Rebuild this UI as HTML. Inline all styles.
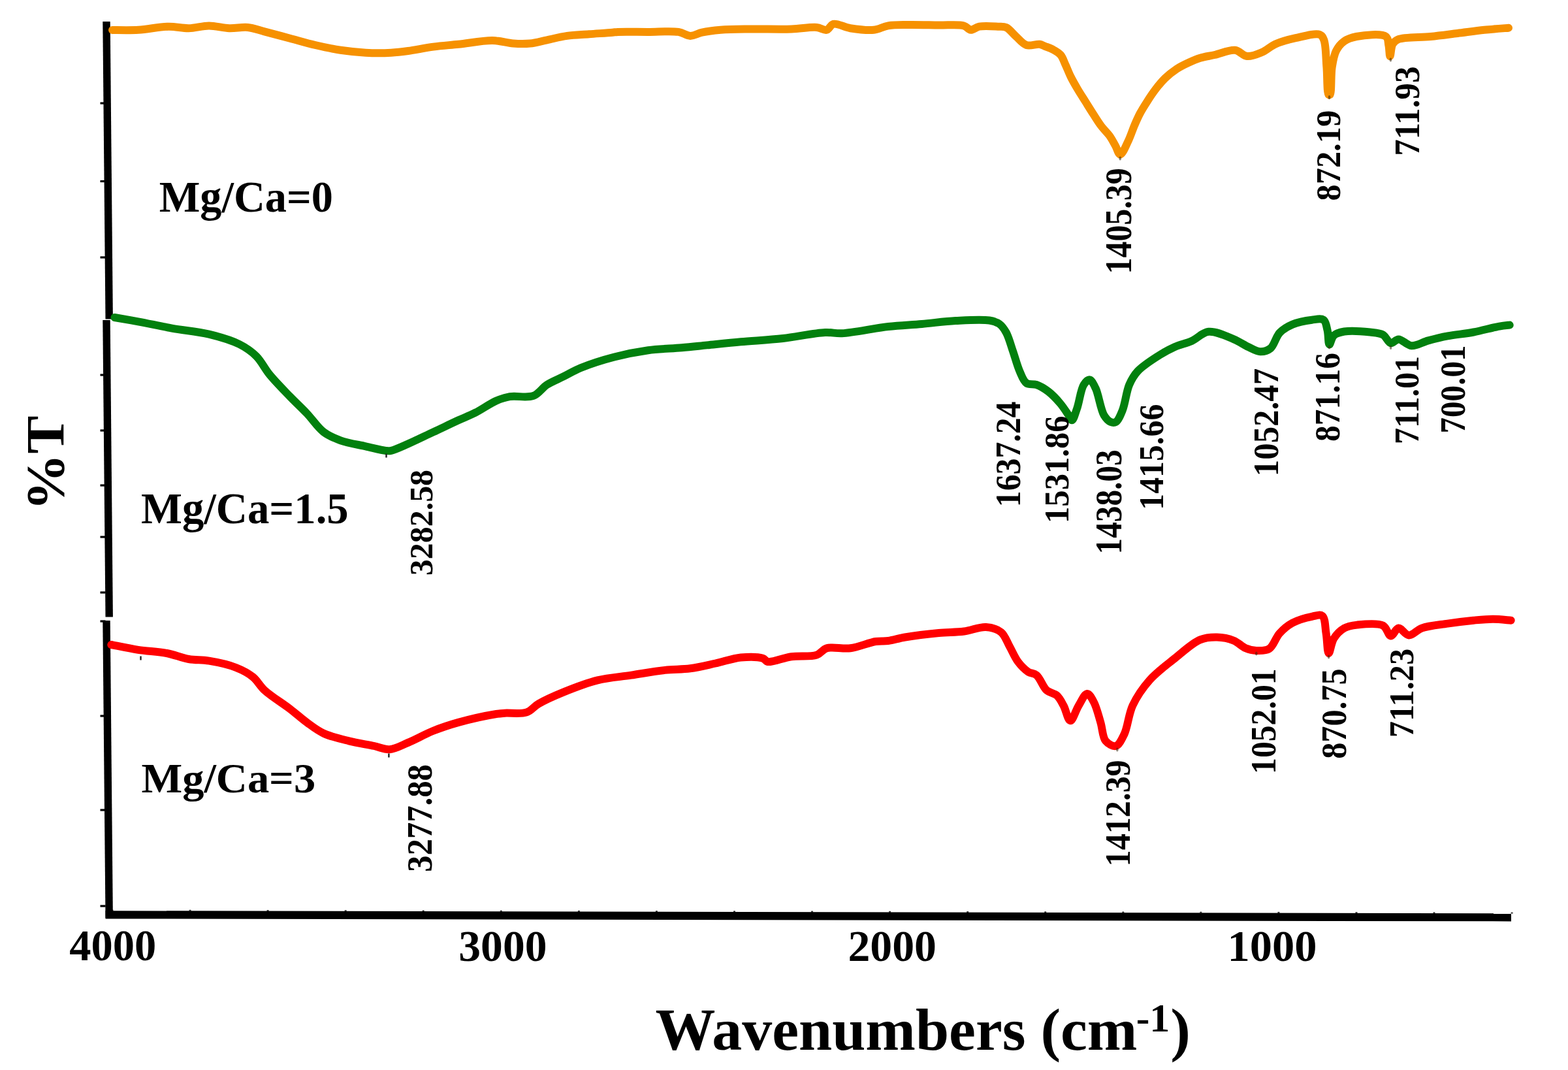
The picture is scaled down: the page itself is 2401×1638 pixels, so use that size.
<!DOCTYPE html><html><head><meta charset="utf-8"><title>FTIR spectra</title><style>html,body{margin:0;padding:0;background:#fff;}svg{display:block;} text{font-family:'Liberation Serif','Times New Roman',serif;font-weight:bold;fill:#000;}</style></head><body>
<svg width="2401" height="1638" viewBox="0 0 2401 1638">
<rect width="2401" height="1638" fill="#fff"/>
<polygon points="157.3,33 168.7,33 172.89999999999998,488.5 161.5,488.5" fill="#000"/>
<polygon points="157.3,490 168.7,490 172.89999999999998,944.5 161.5,944.5" fill="#000"/>
<polygon points="157.3,950 168.7,950 172.89999999999998,1405 161.5,1405" fill="#000"/>
<polygon points="161.5,1394.2 2314,1398.2 2314,1410.4 161.5,1406.4" fill="#000"/>
<rect x="153.5" y="156.4" width="8" height="3.2" fill="#000"/>
<rect x="153.5" y="275.9" width="8" height="3.2" fill="#000"/>
<rect x="153.5" y="392.4" width="8" height="3.2" fill="#000"/>
<rect x="153.5" y="572.4" width="8" height="3.2" fill="#000"/>
<rect x="153.5" y="657.4" width="8" height="3.2" fill="#000"/>
<rect x="153.5" y="741.4" width="8" height="3.2" fill="#000"/>
<rect x="153.5" y="820.4" width="8" height="3.2" fill="#000"/>
<rect x="153.5" y="905.4" width="8" height="3.2" fill="#000"/>
<rect x="153.5" y="949.4" width="8" height="3.2" fill="#000"/>
<rect x="153.5" y="1094.4" width="8" height="3.2" fill="#000"/>
<rect x="153.5" y="1238.4" width="8" height="3.2" fill="#000"/>
<rect x="153.5" y="1385.4" width="8" height="3.2" fill="#000"/>
<rect x="170.5" y="1392.6" width="3" height="2" fill="#000" fill-opacity="0.8"/>
<rect x="289.6" y="1392.8" width="3" height="2" fill="#000" fill-opacity="0.8"/>
<rect x="408.6" y="1393.1" width="3" height="2" fill="#000" fill-opacity="0.8"/>
<rect x="527.7" y="1393.3" width="3" height="2" fill="#000" fill-opacity="0.8"/>
<rect x="646.7" y="1393.5" width="3" height="2" fill="#000" fill-opacity="0.8"/>
<rect x="765.8" y="1393.7" width="3" height="2" fill="#000" fill-opacity="0.8"/>
<rect x="884.9" y="1393.9" width="3" height="2" fill="#000" fill-opacity="0.8"/>
<rect x="1003.9" y="1394.2" width="3" height="2" fill="#000" fill-opacity="0.8"/>
<rect x="1123.0" y="1394.4" width="3" height="2" fill="#000" fill-opacity="0.8"/>
<rect x="1242.0" y="1394.6" width="3" height="2" fill="#000" fill-opacity="0.8"/>
<rect x="1361.1" y="1394.8" width="3" height="2" fill="#000" fill-opacity="0.8"/>
<rect x="1480.2" y="1395.1" width="3" height="2" fill="#000" fill-opacity="0.8"/>
<rect x="1599.2" y="1395.3" width="3" height="2" fill="#000" fill-opacity="0.8"/>
<rect x="1718.3" y="1395.5" width="3" height="2" fill="#000" fill-opacity="0.8"/>
<rect x="1837.3" y="1395.7" width="3" height="2" fill="#000" fill-opacity="0.8"/>
<rect x="1956.4" y="1395.9" width="3" height="2" fill="#000" fill-opacity="0.8"/>
<rect x="2075.5" y="1396.2" width="3" height="2" fill="#000" fill-opacity="0.8"/>
<rect x="2194.5" y="1396.4" width="3" height="2" fill="#000" fill-opacity="0.8"/>
<rect x="2313.6" y="1396.6" width="3" height="2" fill="#000" fill-opacity="0.8"/>
<path d="M172.0,46.0 C178.7,46.0 198.2,46.6 212.0,45.8 C226.8,44.9 244.2,40.9 258.0,40.7 C269.3,40.5 278.7,43.4 289.0,43.2 C299.3,43.0 309.7,39.4 320.0,39.4 C330.3,39.4 340.9,42.8 351.0,43.2 C360.7,43.6 370.3,41.1 379.5,42.0 C388.3,42.9 395.6,46.0 405.0,48.4 C416.6,51.4 431.0,55.3 444.0,58.7 C456.9,62.1 469.7,66.0 482.7,69.0 C495.6,72.0 508.5,74.8 521.5,76.8 C534.3,78.7 547.1,80.0 560.0,80.7 C572.9,81.4 587.4,81.3 599.0,80.7 C608.5,80.2 615.4,79.3 624.8,78.0 C636.4,76.4 650.6,73.3 663.5,71.6 C676.3,69.9 688.2,69.2 702.0,67.8 C718.0,66.1 738.8,61.8 754.0,62.0 C765.9,62.2 775.7,65.8 785.8,66.5 C794.8,67.1 803.0,67.4 811.6,66.5 C820.3,65.6 828.5,63.1 837.5,61.3 C847.3,59.3 857.8,56.4 868.4,54.9 C879.3,53.4 890.6,53.2 902.0,52.3 C913.8,51.4 930.3,50.4 938.0,49.7 C941.6,49.4 942.2,49.1 946.0,48.9 C955.0,48.5 976.6,48.9 992.0,48.9 C1007.6,48.9 1027.0,47.0 1038.9,48.9 C1046.5,50.1 1051.0,54.8 1057.0,54.9 C1063.0,55.0 1068.3,51.1 1075.0,49.7 C1083.3,47.9 1092.9,46.7 1103.4,45.8 C1116.4,44.7 1131.0,44.7 1147.0,44.5 C1166.5,44.2 1193.1,45.1 1212.0,44.5 C1226.5,44.0 1240.7,41.0 1250.6,41.9 C1256.9,42.5 1261.7,46.9 1266.0,45.8 C1270.0,44.8 1271.5,37.9 1276.0,36.8 C1282.3,35.2 1292.6,41.7 1302.0,43.2 C1313.0,44.9 1327.6,46.9 1338.0,45.8 C1346.3,44.9 1352.0,40.7 1360.0,39.4 C1369.4,37.8 1379.6,38.2 1391.0,38.0 C1404.9,37.8 1422.7,38.4 1437.5,38.6 C1450.9,38.8 1467.4,36.9 1476.0,39.4 C1480.9,40.8 1482.7,45.5 1486.5,45.8 C1490.5,46.1 1494.1,41.7 1499.4,40.7 C1507.0,39.3 1520.4,40.3 1528.0,40.7 C1533.1,41.0 1536.6,40.1 1540.7,42.0 C1546.0,44.4 1550.8,51.5 1556.0,56.0 C1561.1,60.5 1565.7,67.0 1571.7,69.0 C1577.7,71.0 1586.8,67.0 1592.0,67.8 C1595.3,68.3 1597.1,69.7 1600.0,70.8 C1603.6,72.2 1608.1,73.5 1612.0,75.6 C1616.1,77.8 1620.8,80.3 1624.0,84.0 C1627.3,87.8 1628.8,93.2 1631.2,98.4 C1634.0,104.3 1636.5,111.2 1639.6,117.5 C1642.8,124.0 1646.5,130.3 1650.3,136.7 C1654.1,143.1 1658.3,149.5 1662.3,155.9 C1666.3,162.3 1670.3,168.8 1674.3,175.0 C1678.3,181.1 1682.0,187.3 1686.3,193.0 C1690.4,198.5 1695.8,203.3 1699.5,208.6 C1702.9,213.4 1705.2,218.3 1707.9,223.0 C1710.5,227.6 1712.5,236.5 1715.3,236.5 C1718.8,236.6 1724.0,223.1 1727.6,215.8 C1731.3,208.2 1734.0,199.2 1737.2,191.8 C1740.0,185.4 1742.4,179.8 1745.5,173.9 C1748.7,167.8 1752.4,161.9 1756.3,155.9 C1760.4,149.5 1764.8,142.8 1769.5,136.7 C1774.0,130.8 1778.6,125.1 1783.9,119.9 C1789.3,114.6 1795.7,109.6 1801.9,105.5 C1807.7,101.7 1813.7,98.8 1819.8,96.0 C1825.7,93.3 1831.4,90.8 1837.8,88.8 C1844.7,86.7 1852.0,85.8 1860.0,84.0 C1869.5,81.9 1882.1,75.8 1891.0,76.8 C1898.2,77.6 1903.0,85.3 1909.6,86.0 C1916.7,86.7 1925.1,83.0 1932.3,80.0 C1939.6,76.9 1945.2,71.0 1953.0,67.5 C1962.1,63.5 1973.1,60.6 1984.0,58.2 C1995.7,55.6 2014.1,50.2 2021.0,53.0 C2024.6,54.5 2025.7,57.2 2027.3,61.3 C2030.5,69.6 2030.2,88.7 2031.4,102.6 C2032.6,116.6 2031.8,142.5 2034.5,145.0 C2035.1,145.5 2035.9,145.5 2036.5,145.0 C2039.2,142.5 2037.7,114.8 2039.7,102.6 C2041.2,93.2 2042.5,84.6 2046.0,77.8 C2049.0,72.0 2053.0,67.0 2058.0,63.4 C2063.2,59.6 2069.1,57.5 2076.9,56.0 C2088.6,53.8 2115.3,50.8 2122.3,56.0 C2126.2,58.9 2125.4,64.8 2126.4,69.6 C2127.5,74.8 2127.5,86.0 2128.5,86.0 C2129.5,86.0 2129.9,72.0 2132.6,67.5 C2134.6,64.1 2136.6,62.1 2141.0,60.3 C2150.3,56.4 2174.8,57.6 2190.5,56.0 C2204.9,54.5 2218.0,52.7 2231.8,51.0 C2245.5,49.3 2259.6,47.2 2273.0,45.8 C2285.7,44.5 2303.8,43.2 2310.0,42.7" fill="none" stroke="#F69100" stroke-width="12.0" stroke-linejoin="round" stroke-linecap="round"/>
<path d="M175.5,486.0 C181.5,487.1 198.5,489.9 211.6,492.3 C227.3,495.2 245.6,499.4 263.3,502.6 C281.7,505.9 302.2,507.3 320.0,511.6 C336.5,515.6 353.7,520.5 366.6,527.0 C376.9,532.2 384.8,537.7 392.4,545.2 C400.4,553.1 405.1,564.0 413.0,573.6 C422.0,584.5 434.0,596.6 444.0,607.0 C453.0,616.3 461.5,624.0 470.0,633.0 C478.7,642.1 486.3,654.4 495.6,661.4 C503.7,667.5 511.8,670.8 521.5,674.3 C532.9,678.4 547.9,680.6 560.0,683.3 C570.9,685.7 584.0,689.3 591.0,690.0 C594.5,690.3 595.7,690.5 599.0,689.8 C605.2,688.5 615.4,683.6 624.8,679.5 C636.5,674.4 650.6,667.4 663.5,661.4 C676.4,655.4 690.4,648.6 702.0,643.3 C711.5,639.0 719.0,636.3 728.0,631.7 C738.2,626.5 750.3,617.7 760.0,613.5 C767.5,610.3 772.7,608.5 780.7,607.2 C791.0,605.5 806.9,609.6 816.8,605.9 C825.3,602.7 829.9,593.9 837.5,589.0 C845.4,583.9 854.7,580.5 863.3,576.2 C871.9,571.9 878.8,567.5 889.0,563.3 C903.1,557.5 923.3,551.0 940.7,546.5 C957.8,542.0 975.1,538.6 992.4,536.2 C1009.5,533.9 1028.0,533.7 1044.0,532.3 C1057.8,531.1 1068.9,529.8 1082.7,528.4 C1098.7,526.8 1116.2,524.9 1134.4,523.3 C1154.7,521.5 1177.5,520.4 1199.0,518.0 C1220.5,515.6 1246.8,509.7 1263.5,509.0 C1274.0,508.5 1278.6,510.8 1289.3,510.3 C1307.1,509.5 1338.2,502.4 1360.0,500.0 C1378.5,497.9 1394.4,497.5 1411.6,496.0 C1428.8,494.5 1446.0,491.9 1463.3,491.0 C1480.5,490.1 1503.0,488.5 1515.0,490.5 C1521.8,491.6 1526.1,492.9 1530.4,496.0 C1534.7,499.1 1537.6,503.5 1540.7,509.0 C1544.8,516.4 1547.6,527.8 1551.0,537.5 C1554.5,547.6 1557.5,559.6 1561.4,568.4 C1564.5,575.4 1566.9,583.2 1571.7,586.5 C1575.9,589.4 1582.0,587.2 1587.2,589.0 C1593.2,591.1 1599.5,595.0 1605.3,599.4 C1611.7,604.3 1618.1,611.2 1623.4,617.5 C1628.3,623.3 1633.0,630.8 1636.3,635.6 C1638.4,638.7 1639.7,643.5 1641.4,643.3 C1643.9,643.1 1646.6,632.4 1649.2,625.2 C1652.7,615.3 1654.8,596.2 1659.5,589.0 C1662.1,585.0 1665.7,581.0 1668.5,581.4 C1671.8,581.8 1674.7,588.5 1677.6,594.3 C1682.3,603.9 1685.2,626.8 1690.5,635.6 C1693.6,640.7 1697.3,644.5 1700.8,646.0 C1703.4,647.1 1706.2,647.4 1708.6,646.0 C1712.5,643.7 1715.9,635.2 1718.9,627.8 C1723.1,617.5 1724.6,599.6 1729.2,589.0 C1732.8,580.7 1736.0,574.9 1742.0,568.4 C1749.6,560.1 1762.9,551.7 1773.0,545.2 C1781.8,539.5 1790.2,534.9 1799.0,531.0 C1807.5,527.2 1816.4,525.8 1824.8,522.0 C1833.6,518.1 1840.9,508.8 1850.6,507.8 C1862.0,506.6 1878.3,514.9 1889.3,519.4 C1898.0,523.0 1904.7,528.0 1911.9,531.3 C1918.1,534.1 1923.9,538.0 1929.7,538.2 C1935.1,538.4 1941.0,536.8 1945.5,533.2 C1951.3,528.5 1953.5,515.7 1959.4,509.5 C1964.9,503.7 1971.6,499.8 1979.2,496.6 C1987.8,492.9 2000.2,490.7 2008.9,489.7 C2015.5,488.9 2022.7,487.0 2026.7,489.7 C2030.5,492.4 2031.1,499.7 2032.6,505.5 C2034.3,512.1 2033.7,527.0 2035.6,527.3 C2037.2,527.6 2038.8,516.7 2042.5,513.4 C2046.3,510.0 2051.8,508.6 2058.4,507.5 C2068.5,505.8 2087.1,507.3 2098.0,508.5 C2105.7,509.4 2112.3,509.5 2117.7,512.5 C2122.7,515.3 2125.3,524.5 2129.6,525.3 C2133.3,526.0 2137.0,519.4 2141.5,519.4 C2147.3,519.4 2154.1,528.7 2161.3,529.3 C2169.2,530.0 2178.1,523.8 2187.0,521.4 C2196.5,518.8 2206.0,516.4 2216.7,514.4 C2228.9,512.1 2243.1,511.0 2256.3,508.5 C2269.5,506.0 2285.6,501.4 2295.9,499.6 C2302.3,498.5 2309.1,497.9 2311.7,497.6" fill="none" stroke="#02800E" stroke-width="12.0" stroke-linejoin="round" stroke-linecap="round"/>
<path d="M170.3,987.0 C177.2,988.3 197.6,992.7 211.6,994.9 C226.0,997.1 241.9,997.4 255.5,1000.0 C267.5,1002.3 278.0,1007.1 289.0,1009.0 C299.5,1010.8 309.0,1009.9 320.0,1011.7 C332.9,1013.8 349.5,1017.3 361.4,1022.0 C371.3,1025.9 379.8,1030.3 387.2,1036.2 C394.3,1041.9 397.7,1049.8 405.3,1056.8 C415.4,1066.0 432.5,1076.4 444.0,1085.2 C453.6,1092.5 461.0,1099.6 469.8,1105.9 C478.3,1112.0 485.8,1118.1 495.7,1122.7 C507.0,1127.9 521.4,1131.1 534.4,1134.3 C547.2,1137.5 561.7,1139.6 573.0,1142.0 C581.8,1143.9 588.3,1147.7 596.4,1147.2 C605.5,1146.6 614.7,1141.1 624.8,1136.9 C636.8,1131.9 650.5,1124.0 663.5,1118.8 C676.2,1113.7 687.7,1109.9 702.0,1105.9 C719.2,1101.1 747.6,1095.0 760.0,1093.0 C765.8,1092.1 767.6,1092.1 772.9,1091.7 C781.5,1091.1 797.4,1093.5 806.5,1090.4 C813.9,1087.9 817.1,1081.8 824.5,1077.5 C834.8,1071.5 849.3,1065.1 863.3,1059.4 C879.1,1053.0 897.6,1045.7 915.0,1041.4 C932.0,1037.2 949.4,1036.2 966.6,1033.6 C983.8,1031.0 1002.2,1027.6 1018.2,1025.9 C1032.0,1024.4 1044.1,1025.0 1057.0,1023.3 C1070.0,1021.6 1082.8,1018.3 1095.7,1015.5 C1108.6,1012.7 1121.9,1007.7 1134.4,1006.5 C1145.9,1005.4 1160.9,1005.5 1168.0,1007.8 C1171.7,1009.0 1172.0,1012.3 1175.7,1013.0 C1183.1,1014.4 1199.5,1006.9 1211.8,1005.2 C1224.4,1003.4 1240.9,1005.9 1250.6,1002.6 C1257.3,1000.3 1259.4,994.3 1266.0,992.3 C1275.2,989.5 1290.0,993.9 1302.2,992.3 C1315.0,990.6 1330.3,983.7 1341.0,982.0 C1348.4,980.8 1353.2,981.9 1360.0,981.0 C1368.0,979.9 1375.7,977.2 1385.8,975.5 C1400.0,973.1 1421.5,970.5 1437.5,969.0 C1451.3,967.7 1463.8,968.1 1476.2,966.5 C1487.8,965.0 1499.7,959.3 1509.8,960.0 C1518.3,960.6 1527.0,962.9 1533.0,967.8 C1539.1,972.8 1541.7,982.3 1546.0,989.7 C1550.3,997.3 1553.8,1006.3 1558.8,1013.0 C1563.3,1019.0 1569.0,1024.9 1574.3,1028.4 C1578.5,1031.2 1583.2,1030.3 1587.2,1033.6 C1592.9,1038.2 1596.8,1051.5 1602.7,1056.8 C1607.4,1060.9 1613.9,1060.8 1618.2,1064.6 C1622.6,1068.5 1625.3,1074.2 1628.5,1080.0 C1632.3,1086.8 1635.1,1103.1 1638.9,1103.3 C1642.8,1103.5 1647.3,1087.1 1651.8,1080.0 C1655.9,1073.5 1660.6,1062.1 1664.7,1062.0 C1668.3,1061.9 1672.0,1069.4 1675.0,1075.0 C1679.2,1082.8 1682.2,1095.8 1685.3,1105.9 C1688.2,1115.5 1688.1,1128.3 1693.0,1134.3 C1696.8,1138.9 1704.1,1143.1 1708.6,1142.0 C1713.7,1140.7 1717.7,1131.7 1721.5,1124.0 C1726.9,1112.9 1728.0,1093.7 1734.4,1080.0 C1740.9,1066.2 1749.8,1053.2 1760.2,1041.4 C1771.1,1029.0 1785.9,1018.3 1799.0,1007.8 C1811.7,997.7 1825.5,984.4 1837.7,979.4 C1846.7,975.7 1854.9,975.3 1863.5,975.5 C1872.1,975.7 1881.7,977.6 1889.3,980.7 C1896.2,983.5 1901.3,989.7 1907.4,992.3 C1912.8,994.6 1918.1,995.8 1923.8,996.0 C1930.0,996.3 1937.9,996.7 1943.5,993.2 C1950.2,989.0 1953.2,976.2 1959.4,969.5 C1965.2,963.2 1971.5,957.8 1979.2,953.6 C1987.7,949.0 2000.5,945.4 2008.9,943.8 C2014.9,942.6 2021.1,940.1 2024.7,942.8 C2029.5,946.4 2029.0,960.3 2030.6,969.5 C2032.3,979.3 2032.4,999.8 2034.6,1000.0 C2036.6,1000.2 2038.4,983.9 2042.5,977.4 C2046.4,971.1 2052.3,965.1 2058.4,961.6 C2064.2,958.3 2070.4,957.5 2078.2,956.6 C2089.0,955.4 2109.0,953.1 2117.7,957.6 C2123.9,960.8 2125.5,973.1 2129.6,973.4 C2133.4,973.7 2137.1,962.0 2141.5,961.6 C2146.2,961.2 2151.6,972.2 2157.3,972.5 C2163.4,972.8 2169.1,964.4 2177.1,961.6 C2187.8,957.8 2203.5,956.6 2216.7,954.6 C2229.9,952.6 2244.0,950.9 2256.3,949.7 C2266.9,948.7 2276.3,947.7 2286.0,947.7 C2295.4,947.7 2309.1,949.4 2313.7,949.7" fill="none" stroke="#FF0000" stroke-width="12.0" stroke-linejoin="round" stroke-linecap="round"/>
<rect x="590.3" y="694.5" width="2.4" height="6" fill="#222"/>
<rect x="594.2" y="1153.5" width="2.4" height="6" fill="#222"/>
<rect x="214.3" y="1004.5" width="2.4" height="6" fill="#222"/>
<ellipse cx="1715.2" cy="242.5" rx="1.8" ry="3" fill="#3a2a10" fill-opacity="0.55"/>
<ellipse cx="2035.5" cy="149.0" rx="1.8" ry="3" fill="#3a2a10" fill-opacity="0.55"/>
<ellipse cx="2129.4" cy="91.5" rx="1.8" ry="3" fill="#3a2a10" fill-opacity="0.55"/>
<ellipse cx="2035.6" cy="531.5" rx="1.8" ry="3" fill="#3a2a10" fill-opacity="0.55"/>
<ellipse cx="2129.6" cy="532.0" rx="1.8" ry="3" fill="#3a2a10" fill-opacity="0.55"/>
<ellipse cx="1923.8" cy="1000.5" rx="1.8" ry="3" fill="#3a2a10" fill-opacity="0.55"/>
<ellipse cx="2034.6" cy="1005.5" rx="1.8" ry="3" fill="#3a2a10" fill-opacity="0.55"/>
<ellipse cx="1710.8" cy="1147.5" rx="1.8" ry="3" fill="#3a2a10" fill-opacity="0.55"/>
<text transform="translate(243.71,324.00) scale(0.9705,1)" font-size="68.36">Mg/Ca=0</text>
<text transform="translate(216.06,801.20) scale(0.9856,1)" font-size="67.66">Mg/Ca=1.5</text>
<text transform="translate(216.42,1213.00) scale(1.0320,1)" font-size="64.43">Mg/Ca=3</text>
<text transform="translate(106.29,1470.20) scale(0.9979,1)" font-size="66.70">4000</text>
<text transform="translate(702.30,1470.70) scale(1.0029,1)" font-size="67.45">3000</text>
<text transform="translate(1298.41,1470.70) scale(0.9954,1)" font-size="68.12">2000</text>
<text transform="translate(1879.43,1470.80) scale(1.0101,1)" font-size="67.85">1000</text>
<text transform="translate(1731.50,419.52) rotate(-90) scale(0.8831,1)" font-size="56.54">1405.39</text>
<text transform="translate(2051.82,307.56) rotate(-90) scale(0.9379,1)" font-size="53.80">872.19</text>
<text transform="translate(2172.51,238.71) rotate(-90) scale(0.9100,1)" font-size="55.92">711.93</text>
<text transform="translate(661.94,881.32) rotate(-90) scale(0.9850,1)" font-size="50.74">3282.58</text>
<text transform="translate(1561.53,776.14) rotate(-90) scale(0.9132,1)" font-size="54.45">1637.24</text>
<text transform="translate(1636.39,800.97) rotate(-90) scale(0.9564,1)" font-size="52.92">1531.86</text>
<text transform="translate(1717.14,848.47) rotate(-90) scale(0.8752,1)" font-size="56.33">1438.03</text>
<text transform="translate(1781.18,780.80) rotate(-90) scale(0.9329,1)" font-size="53.50">1415.66</text>
<text transform="translate(1956.51,729.23) rotate(-90) scale(0.9099,1)" font-size="55.92">1052.47</text>
<text transform="translate(2050.74,675.94) rotate(-90) scale(0.9008,1)" font-size="54.83">871.16</text>
<text transform="translate(2171.56,680.03) rotate(-90) scale(0.9577,1)" font-size="52.41">711.01</text>
<text transform="translate(2242.65,663.46) rotate(-90) scale(0.8812,1)" font-size="55.68">700.01</text>
<text transform="translate(661.03,1334.93) rotate(-90) scale(0.9309,1)" font-size="54.53">3277.88</text>
<text transform="translate(1730.15,1326.46) rotate(-90) scale(0.8980,1)" font-size="55.92">1412.39</text>
<text transform="translate(1953.01,1184.92) rotate(-90) scale(0.8939,1)" font-size="55.59">1052.01</text>
<text transform="translate(2061.30,1161.83) rotate(-90) scale(0.9164,1)" font-size="54.95">870.75</text>
<text transform="translate(2164.04,1129.28) rotate(-90) scale(0.9473,1)" font-size="53.50">711.23</text>
<text transform="translate(96.85,781.75) rotate(-90) scale(1.0511,1)" font-size="83.01">%T</text>
<text transform="translate(1003.50,1607.30) scale(1.0216,1)" font-size="90.0">Wavenumbers (cm</text><text x="1739.7" y="1578.50" font-size="62.0">-1</text><text transform="translate(1792.30,1607.30) scale(1.0216,1)" font-size="90.0">)</text>
</svg></body></html>
